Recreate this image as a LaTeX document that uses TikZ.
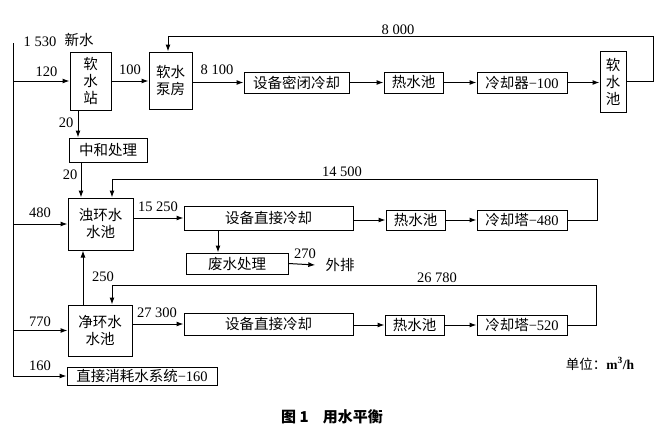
\documentclass[tikz,border=0pt]{standalone}
\usepackage{fontspec}
\setmainfont{Liberation Serif}
\newfontfamily\cjk{Noto Sans CJK SC}
\usetikzlibrary{arrows.meta}
\begin{document}
\begin{tikzpicture}[x=1pt,y=-1pt,
  box/.style={draw,line width=1pt,inner sep=0pt,align=center,font={\cjk\fontsize{14.5}{17}\selectfont}},
  arr/.style={line width=1pt,-{Latex[length=7pt,width=5pt]}},
  num/.style={inner sep=0pt,font={\fontsize{14.5}{15}\selectfont}},
  lab/.style={inner sep=0pt,font={\cjk\fontsize{14.5}{15}\selectfont}}]
\useasboundingbox (0,0) rectangle (669,434);
% boxes
\node[box,minimum width=41pt,minimum height=58pt] (rsz) at (90.5,81) {软\\水\\站};
\node[box,minimum width=43pt,minimum height=57pt] (rsbf) at (170.5,80.5) {软水\\泵房};
\node[box,minimum width=105pt,minimum height=21pt] (mbl) at (296.5,82.5) {设备密闭冷却};
\node[box,minimum width=59pt,minimum height=21pt] (rsc1) at (413.5,82.5) {热水池};
\node[box,minimum width=90pt,minimum height=21pt] (lqq) at (522,82.5) {冷却器{\rmfamily −100}};
\node[box,minimum width=26pt,minimum height=61pt] (rsc) at (613,81.5) {软\\水\\池};
\node[box,minimum width=78pt,minimum height=24pt] (zhcl) at (108,150) {中和处理};
\node[box,minimum width=65pt,minimum height=52pt] (zhs) at (100.5,224) {浊环水\\水池};
\node[box,minimum width=169pt,minimum height=24pt] (zj1) at (268.5,218) {设备直接冷却};
\node[box,minimum width=59pt,minimum height=20pt] (rsc2) at (415.5,220) {热水池};
\node[box,minimum width=90pt,minimum height=20pt] (lqt1) at (522,220) {冷却塔{\rmfamily −480}};
\node[box,minimum width=102pt,minimum height=21pt] (fscl) at (237,263.5) {废水处理};
\node[lab] (wp) at (340,265) {外排};
\node[box,minimum width=64pt,minimum height=51pt] (jhs) at (100,330.5) {净环水\\水池};
\node[box,minimum width=169pt,minimum height=22pt] (zj2) at (268.5,324) {设备直接冷却};
\node[box,minimum width=59pt,minimum height=20pt] (rsc3) at (414.5,325) {热水池};
\node[box,minimum width=90pt,minimum height=20pt] (lqt2) at (522,325) {冷却塔{\rmfamily −520}};
\node[box,minimum width=150pt,minimum height=18pt] (zjxh) at (142,376) {直接消耗水系统{\rmfamily −160}};
% helper coordinates
\coordinate (top) at (13,43);
\coordinate (c78) at (78,0);
\coordinate (c81) at (81,0);
\coordinate (c83) at (83,0);
\coordinate (c112) at (112,0);
\coordinate (c168) at (168,0);
\coordinate (c218) at (218,0);
\coordinate (r1) at (653,36);
\coordinate (r2) at (597,179);
\coordinate (r3) at (596,285);
% main supply line
\draw[arr] (top) |- (zjxh.west);
\draw[arr] (top |- rsz.west) -- (rsz.west);
\draw[arr] (top |- zhs.west) -- (zhs.west);
\draw[arr] (top |- jhs.west) -- (jhs.west);
% soft water loop
\draw[arr] (rsz.east) -- (rsz.east -| rsbf.west);
\draw[arr] (rsbf.east |- mbl.west) -- (mbl.west);
\draw[arr] (mbl.east) -- (rsc1.west);
\draw[arr] (rsc1.east) -- (lqq.west);
\draw[arr] (lqq.east) -- (lqq.east -| rsc.west);
\draw[arr] (rsc.east) -| (r1) -| (rsbf.north -| c168);
\draw[arr] (rsz.south -| c78) -- (zhcl.north -| c78);
\draw[arr] (zhcl.south -| c81) -- (zhs.north -| c81);
% turbid loop
\draw[arr] (zj1.west -| zhs.east) -- (zj1.west);
\draw[arr] (zj1.east |- rsc2.west) -- (rsc2.west);
\draw[arr] (rsc2.east) -- (lqt1.west);
\draw[arr] (lqt1.east) -| (r2) -| (zhs.north -| c112);
\draw[arr] (zj1.south -| c218) -- (fscl.north -| c218);
\draw[arr] (fscl.east) -- ([xshift=-10pt]wp.west);
% clean loop
\draw[arr] (jhs.north -| c83) -- (zhs.south -| c83);
\draw[arr] (zj2.west -| jhs.east) -- (zj2.west);
\draw[arr] (zj2.east |- rsc3.west) -- (rsc3.west);
\draw[arr] (rsc3.east) -- (lqt2.west);
\draw[arr] (lqt2.east) -| (r3) -| (jhs.north -| c112);
% labels
\node[num] at (40,42) {1 530};
\node[lab] at (79,40) {新水};
\node[num] at (46.5,72) {120};
\node[num] at (130,70) {100};
\node[num] at (217,70) {8 100};
\node[num] at (398,30) {8 000};
\node[num] at (66,123) {20};
\node[num] at (70,175) {20};
\node[num] at (342,172) {14 500};
\node[num] at (40,213) {480};
\node[num] at (158,207) {15 250};
\node[num] at (305,254) {270};
\node[num] at (103,277) {250};
\node[num] at (437,278) {26 780};
\node[num] at (40,322) {770};
\node[num] at (157,313) {27 300};
\node[num] at (40,366) {160};
\node[lab,font={\cjk\fontsize{13.5}{15}\selectfont}] at (600,364) {单位：{\rmfamily\bfseries m\textsuperscript{3}/h}};
\node[lab,font={\cjk\bfseries\fontsize{15}{17}\selectfont}] at (332,417) {图 1\hspace{14pt}用水平衡};
\end{tikzpicture}
\end{document}
